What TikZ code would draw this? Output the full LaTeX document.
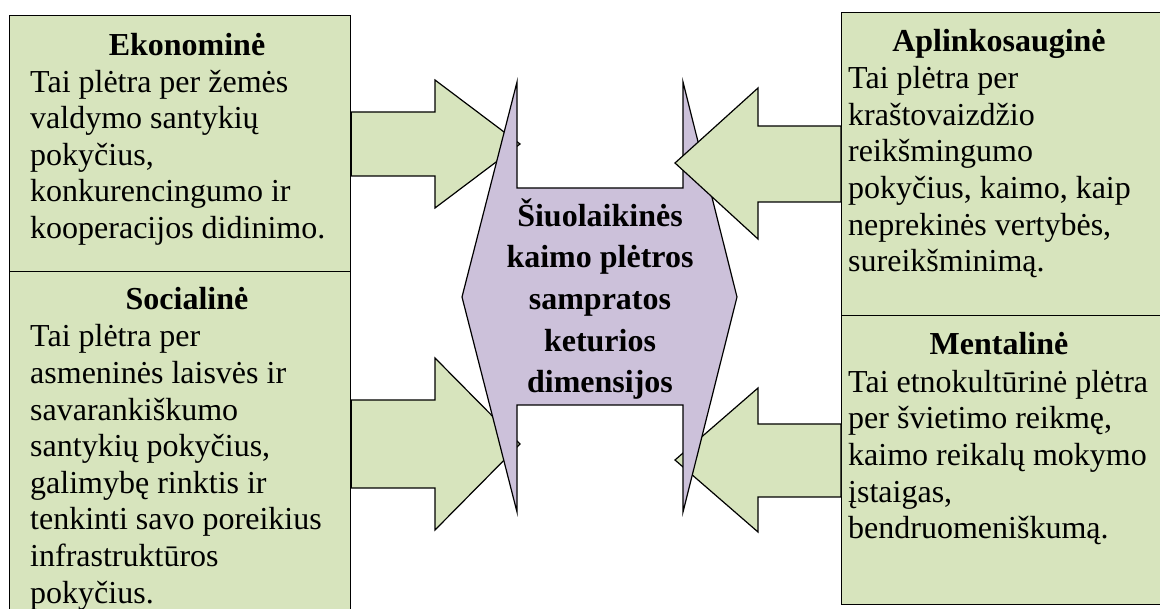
\documentclass[tikz,border=0pt]{standalone}
\usepackage{fontspec}
\setmainfont{Liberation Serif}
\usepackage{tikz}

\definecolor{boxgreen}{HTML}{D7E4BD}
\definecolor{corelilac}{HTML}{CCC1DA}
\newcommand{\dimstrut}{\rule{0pt}{24pt}}

\begin{document}
\begin{tikzpicture}[x=1pt,y=-1pt,line join=miter,
    dim box/.style={draw=black,fill=boxgreen,line width=1.2pt,minimum width=341pt,anchor=north west,inner sep=0pt},
    dim title/.style={anchor=base,inner sep=0pt,font=\fontsize{32}{36.6}\selectfont\bfseries},
    dim text/.style={anchor=north west,inner sep=0pt,align=left,font=\fontsize{32}{36.6}\selectfont},
    block arrow/.style={draw=black,fill=boxgreen,line width=1.2pt},
    core text/.style={anchor=north,inner sep=0pt,align=center,font=\fontsize{32}{41.7}\selectfont\bfseries}]

    \useasboundingbox (0,0) rectangle (1160,609);
    \clip (0,0) rectangle (1160,609);

    % the four dimensions
    \node[dim box,minimum height=256pt] (eko) at (9,15) {};
    \node[dim box,minimum height=360pt] (soc) at (9,271) {};
    \node[dim box,minimum height=303pt] (apl) at (841,12) {};
    \node[dim box,minimum height=289pt] (men) at (841,315) {};

    % arrows under the middle shape
    \filldraw[block arrow] (eko.east |- 0,112) -- (435,112) -- (435,80) -- (520,144)
        -- (435,208) -- (435,176) -- (eko.east |- 0,176) -- cycle;
    \filldraw[block arrow] (soc.east |- 0,400) -- (435,400) -- (435,358) -- (520,444)
        -- (435,530) -- (435,488) -- (soc.east |- 0,488) -- cycle;
    \filldraw[block arrow] (men.west |- 0,424) -- (758,424) -- (758,388) -- (675,460)
        -- (758,532) -- (758,497) -- (men.west |- 0,497) -- cycle;

    % middle shape
    \filldraw[draw=black,fill=corelilac,line width=1.2pt] (462,297) -- (517,82) -- (517,188)
        -- (683,188) -- (683,82) -- (737,297) -- (683,512) -- (683,405)
        -- (517,405) -- (517,512) -- cycle;
    \node[core text] (core) at (600,196) {\rule{0pt}{30pt}Šiuolaikinės\\kaimo plėtros\\sampratos\\keturios\\dimensijos};

    % arrow over the middle shape
    \filldraw[block arrow] (apl.west |- 0,126) -- (758,126) -- (758,88) -- (675,163)
        -- (758,239) -- (758,202) -- (apl.west |- 0,202) -- cycle;

    % texts
    \node[dim title] (ekotitle) at (187,56) {Ekonominė};
    \node[dim text] (ekotext) at (30,68) {\dimstrut Tai plėtra per žemės\\valdymo santykių\\pokyčius,\\konkurencingumo ir\\kooperacijos didinimo.};

    \node[dim title] (soctitle) at (187,310) {Socialinė};
    \node[dim text] (soctext) at (30,322.7) {\dimstrut Tai plėtra per\\asmeninės laisvės ir\\savarankiškumo\\santykių pokyčius,\\galimybę rinktis ir\\tenkinti savo poreikius\\infrastruktūros\\pokyčius.};

    \node[dim title] (apltitle) at (999,52) {Aplinkosauginė};
    \node[dim text] (apltext) at (848,64.6) {\dimstrut Tai plėtra per\\kraštovaizdžio\\reikšmingumo\\pokyčius, kaimo, kaip\\neprekinės vertybės,\\sureikšminimą.};

    \node[dim title] (mentitle) at (999,355) {Mentalinė};
    \node[dim text] (mentext) at (848,368) {\dimstrut Tai etnokultūrinė plėtra\\per švietimo reikmę,\\kaimo reikalų mokymo\\įstaigas,\\bendruomeniškumą.};
\end{tikzpicture}
\end{document}
